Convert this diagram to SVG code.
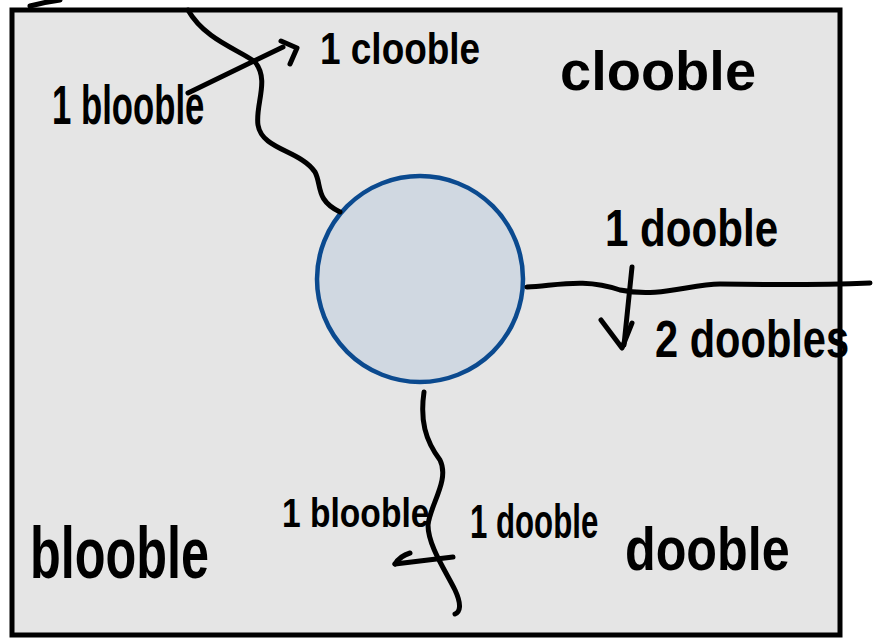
<svg xmlns="http://www.w3.org/2000/svg" width="873" height="640" viewBox="0 0 873 640">
<style>
.ink{fill:none;stroke:#000;stroke-width:5;stroke-linecap:round;stroke-linejoin:round}
.t{font-family:"Liberation Sans","DejaVu Sans",sans-serif;font-weight:bold;fill:#000}
</style>
<rect width="873" height="640" fill="#fff"/>
<g id="frame">
<rect x="12" y="10" width="828" height="625" fill="#e5e5e5" stroke="#000" stroke-width="5"/>
</g>
<g id="core">
<circle cx="420" cy="279" r="103" fill="#d0d8e1" stroke="#0b4a8f" stroke-width="4.5"/>
</g>
<g id="connectors">
<path class="ink" d="M30,6 Q45,2 60,0"/>
<path class="ink" d="M188,10 C205,40 240,50 255,62 C270,80 255,105 258,125 C262,150 300,150 315,172 C322,185 315,200 340,212"/>
<path class="ink" d="M188,93 L283,47"/>
<path class="ink" d="M281,41 L297,48 L290,64"/>
<path class="ink" d="M527,287 C560,285 585,278 620,290 C660,298 690,284 720,284 C780,285 820,285 870,283"/>
<path class="ink" d="M632,267 L624,345"/>
<path class="ink" d="M601,320 L622,348 L632,323"/>
<path class="ink" d="M424,392 C420,420 425,440 440,460 C450,480 430,505 428,525 C428,545 445,570 455,590 C462,605 460,612 455,614"/>
<path class="ink" d="M453,557 L395,564"/>
<path class="ink" d="M395,564 Q400,556 410,553"/>
</g>
<g id="labels">
<text class="t" transform="translate(320 64) scale(0.84 1)" font-size="44">1 clooble</text>
<text class="t" transform="translate(52 124) scale(0.62 1)" font-size="56">1 blooble</text>
<text class="t" transform="translate(560 90) scale(1 1)" font-size="56">clooble</text>
<text class="t" transform="translate(605 246) scale(0.81 1)" font-size="52">1 dooble</text>
<text class="t" transform="translate(655 357) scale(0.80 1)" font-size="52">2 doobles</text>
<text class="t" transform="translate(282 527) scale(0.84 1)" font-size="40">1 blooble</text>
<text class="t" transform="translate(470 538) scale(0.65 1)" font-size="48">1 dooble</text>
<text class="t" transform="translate(625 570) scale(0.81 1)" font-size="62">dooble</text>
<text class="t" transform="translate(30 578) scale(0.70 1)" font-size="72">blooble</text>
</g>
</svg>
